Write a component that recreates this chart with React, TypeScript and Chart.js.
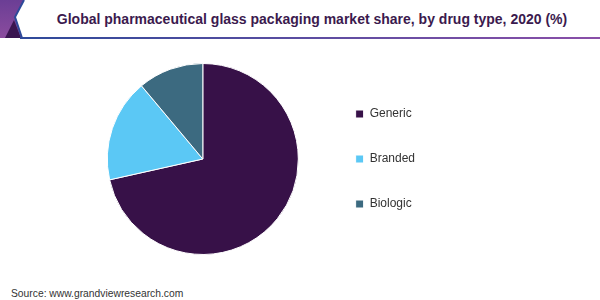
import React, { useEffect, useRef } from "react";
import { Chart, registerables } from "chart.js";

Chart.register(...registerables);

const categories = ["Generic", "Branded", "Biologic"];
const shares = [71.5, 17.4, 11.1];
const colors = ["#371148", "#5BC8F5", "#3C6A80"];
const titleText = "Global pharmaceutical glass packaging market share, by drug type, 2020 (%)";
const sourceText = "Source: www.grandviewresearch.com";
const FONT = "'Liberation Sans', Arial, sans-serif";

export default function App() {
  const ref = useRef<HTMLCanvasElement | null>(null);
  useEffect(() => {
    if (!ref.current) return;
    const chart = new Chart(ref.current, {
      type: "pie",
      data: {
        labels: categories,
        datasets: [
          {
            data: shares,
            backgroundColor: colors,
            borderColor: "#ffffff",
            borderWidth: 1,
            hoverOffset: 0,
          },
        ],
      },
      options: {
        animation: false,
        responsive: false,
        maintainAspectRatio: false,
        layout: { padding: { left: 83, right: 175, top: 19, bottom: 19 } },
        plugins: {
          tooltip: { enabled: false },
          title: { display: false },
          legend: {
            position: "right",
            align: "center",
            labels: {
              boxWidth: 8,
              boxHeight: 8,
              padding: 33,
              color: "#333333",
              font: { family: FONT, size: 12 },
            },
          },
        },
      },
    });
    return () => chart.destroy();
  }, []);

  return (
    <div style={{ position: "fixed", left: 0, top: 0, width: 600, height: 300, background: "#fff", overflow: "hidden" }}>
      <svg width={600} height={42} style={{ position: "absolute", left: 0, top: 0 }}>
        <defs>
          <linearGradient id="lineGrad" x1="0" y1="0" x2="1" y2="0">
            <stop offset="0" stopColor="#2E4A9A" />
            <stop offset="1" stopColor="#8A4FA8" />
          </linearGradient>
          <linearGradient id="leftGrad" x1="0" y1="0" x2="0" y2="1">
            <stop offset="0" stopColor="#6B3E95" />
            <stop offset="1" stopColor="#8B4C9E" />
          </linearGradient>
        </defs>
        <polygon points="0,0 24,0 15,17 22,38 0,38" fill="url(#leftGrad)" />
        <polygon points="14,20 21,38 5,38" fill="#3A1550" />
        <polyline points="24,0 15,17 22,38" fill="none" stroke="#2E4A9A" strokeWidth={2} />
        <rect x={20} y={37} width={580} height={2} fill="url(#lineGrad)" />
      </svg>
      <div
        style={{
          position: "absolute",
          left: 0,
          top: 11,
          width: 624,
          textAlign: "center",
          fontFamily: FONT,
          fontWeight: "bold",
          fontSize: 14,
          color: "#3B1A4E",
          whiteSpace: "nowrap",
        }}
      >
        {titleText}
      </div>
      <canvas ref={ref} width={600} height={230} style={{ position: "absolute", left: 0, top: 44 }} />
      <div
        style={{
          position: "absolute",
          left: 11,
          top: 288,
          fontFamily: FONT,
          fontSize: 10.3,
          color: "#333",
          whiteSpace: "nowrap",
        }}
      >
        {sourceText}
      </div>
    </div>
  );
}
